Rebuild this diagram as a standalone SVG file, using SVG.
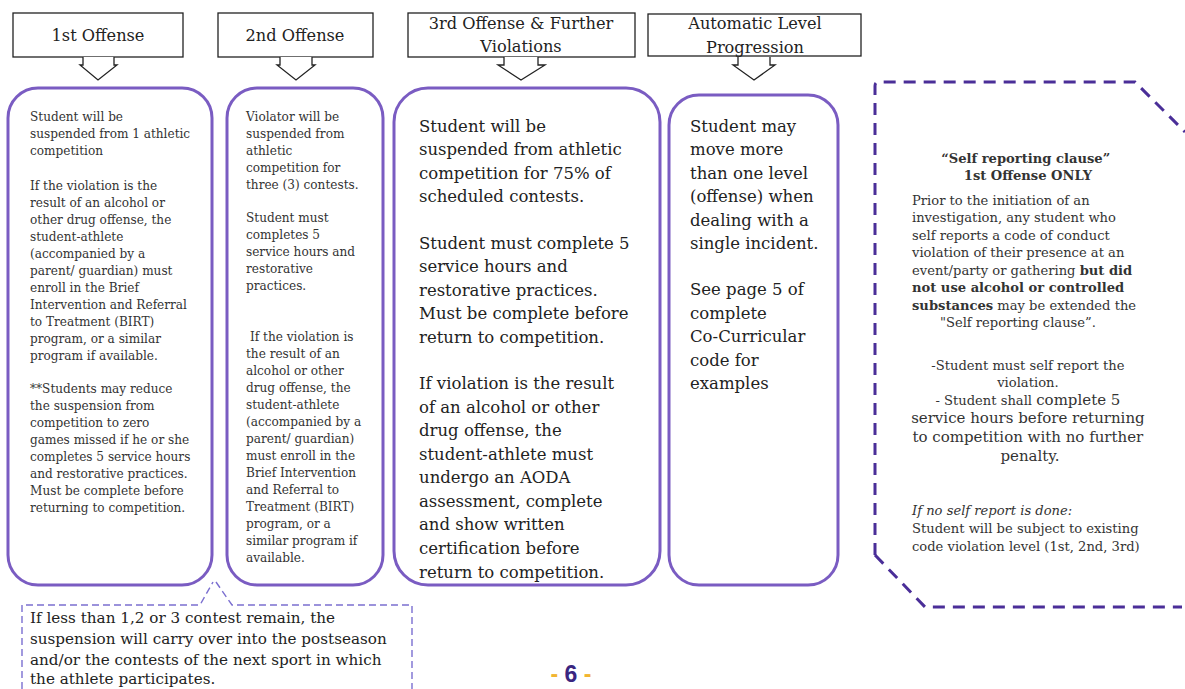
<svg xmlns="http://www.w3.org/2000/svg" width="1185" height="689" viewBox="0 0 1185 689">
<style>
.hdr{fill:#fff;stroke:#222;stroke-width:1.3}
.arr{fill:#fff;stroke:#222;stroke-width:1.3;stroke-linejoin:miter}
.box{fill:#fff;stroke:#7a5cc2;stroke-width:3}
.ht{font-family:"DejaVu Serif","Liberation Serif",serif;font-size:16.2px;fill:#222;text-anchor:middle}
.s{font-family:"DejaVu Serif","Liberation Serif",serif;font-size:12.1px;fill:#333}
.m{font-family:"DejaVu Serif","Liberation Serif",serif;font-size:16.5px;fill:#222}
.r{font-family:"DejaVu Serif","Liberation Serif",serif;font-size:13.1px;fill:#333}
.c{font-family:"DejaVu Serif","Liberation Serif",serif;font-size:15.2px;fill:#222}
.b{font-weight:bold}
.dash{fill:none;stroke:#4a2e98;stroke-width:3;stroke-dasharray:12 8}
.cdash{fill:none;stroke:#7b6fd0;stroke-width:1.4;stroke-dasharray:7 4}
</style>
<rect width="1185" height="689" fill="#fff"/>

<g id="header1">
<rect class="hdr" x="13" y="13" width="170" height="44"/>
<text class="ht" x="98" y="41">1st Offense</text>
<path class="arr" d="M83,57 V65 H80 L98,80 L117,65 H114 V57"/>
</g>
<g id="header2">
<rect class="hdr" x="218" y="13" width="155" height="44"/>
<text class="ht" x="295" y="41">2nd Offense</text>
<path class="arr" d="M280,57 V65 H277 L296,80 L315,65 H312 V57"/>
</g>
<g id="header3">
<rect class="hdr" x="408" y="13" width="227" height="44"/>
<text class="ht" x="521" y="29">3rd Offense &amp; Further</text>
<text class="ht" x="521" y="52">Violations</text>
<path class="arr" d="M504,57 V65 H498 L521,80 L545,65 H538 V57"/>
</g>
<g id="header4">
<rect class="hdr" x="648" y="14" width="213" height="42"/>
<text class="ht" x="755" y="29">Automatic Level</text>
<text class="ht" x="755" y="53">Progression</text>
<path class="arr" d="M738,57 V65 H733 L754,80 L775,65 H770 V57"/>
</g>

<g id="box1">
<rect class="box" x="8" y="88" width="204" height="497" rx="30"/>
<text class="s">
<tspan x="30" y="121">Student will be</tspan>
<tspan x="30" y="138">suspended from 1 athletic</tspan>
<tspan x="30" y="155">competition</tspan>
<tspan x="30" y="190">If the violation is the</tspan>
<tspan x="30" y="207">result of an alcohol or</tspan>
<tspan x="30" y="224">other drug offense, the</tspan>
<tspan x="30" y="241">student-athlete</tspan>
<tspan x="30" y="258">(accompanied by a</tspan>
<tspan x="30" y="275">parent/ guardian) must</tspan>
<tspan x="30" y="292">enroll in the Brief</tspan>
<tspan x="30" y="309">Intervention and Referral</tspan>
<tspan x="30" y="326">to Treatment (BIRT)</tspan>
<tspan x="30" y="343">program, or a similar</tspan>
<tspan x="30" y="360">program if available.</tspan>
<tspan x="30" y="393">**Students may reduce</tspan>
<tspan x="30" y="410">the suspension from</tspan>
<tspan x="30" y="427">competition to zero</tspan>
<tspan x="30" y="444">games missed if he or she</tspan>
<tspan x="30" y="461">completes 5 service hours</tspan>
<tspan x="30" y="478">and restorative practices.</tspan>
<tspan x="30" y="495">Must be complete before</tspan>
<tspan x="30" y="512">returning to competition.</tspan>
</text>
</g>

<g id="box2">
<rect class="box" x="227" y="88" width="156" height="497" rx="30"/>
<text class="s">
<tspan x="246" y="121">Violator will be</tspan>
<tspan x="246" y="138">suspended from</tspan>
<tspan x="246" y="155">athletic</tspan>
<tspan x="246" y="172">competition for</tspan>
<tspan x="246" y="189">three (3) contests.</tspan>
<tspan x="246" y="222">Student must</tspan>
<tspan x="246" y="239">completes 5</tspan>
<tspan x="246" y="256">service hours and</tspan>
<tspan x="246" y="273">restorative</tspan>
<tspan x="246" y="290">practices.</tspan>
<tspan x="250" y="341">If the violation is</tspan>
<tspan x="246" y="358">the result of an</tspan>
<tspan x="246" y="375">alcohol or other</tspan>
<tspan x="246" y="392">drug offense, the</tspan>
<tspan x="246" y="409">student-athlete</tspan>
<tspan x="246" y="426">(accompanied by a</tspan>
<tspan x="246" y="443">parent/ guardian)</tspan>
<tspan x="246" y="460">must enroll in the</tspan>
<tspan x="246" y="477">Brief Intervention</tspan>
<tspan x="246" y="494">and Referral to</tspan>
<tspan x="246" y="511">Treatment (BIRT)</tspan>
<tspan x="246" y="528">program, or a</tspan>
<tspan x="246" y="545">similar program if</tspan>
<tspan x="246" y="562">available.</tspan>
</text>
</g>

<g id="box3">
<rect class="box" x="394" y="88" width="266" height="497" rx="34"/>
<text class="m">
<tspan x="419" y="132">Student will be</tspan>
<tspan x="419" y="155">suspended from athletic</tspan>
<tspan x="419" y="179">competition for 75% of</tspan>
<tspan x="419" y="202">scheduled contests.</tspan>
<tspan x="419" y="249">Student must complete 5</tspan>
<tspan x="419" y="272">service hours and</tspan>
<tspan x="419" y="296">restorative practices.</tspan>
<tspan x="419" y="319">Must be complete before</tspan>
<tspan x="419" y="343">return to competition.</tspan>
<tspan x="419" y="389">If violation is the result</tspan>
<tspan x="419" y="413">of an alcohol or other</tspan>
<tspan x="419" y="436">drug offense, the</tspan>
<tspan x="419" y="460">student-athlete must</tspan>
<tspan x="419" y="483">undergo an AODA</tspan>
<tspan x="419" y="507">assessment, complete</tspan>
<tspan x="419" y="530">and show written</tspan>
<tspan x="419" y="554">certification before</tspan>
<tspan x="419" y="578">return to competition.</tspan>
</text>
</g>

<g id="box4">
<rect class="box" x="669" y="95" width="169" height="490" rx="30"/>
<text class="m">
<tspan x="690" y="132">Student may</tspan>
<tspan x="690" y="155">move more</tspan>
<tspan x="690" y="179">than one level</tspan>
<tspan x="690" y="202">(offense) when</tspan>
<tspan x="690" y="226">dealing with a</tspan>
<tspan x="690" y="249">single incident.</tspan>
<tspan x="690" y="295">See page 5 of</tspan>
<tspan x="690" y="319">complete</tspan>
<tspan x="690" y="342">Co-Curricular</tspan>
<tspan x="690" y="366">code for</tspan>
<tspan x="690" y="389">examples</tspan>
</text>
</g>

<g id="selfreport">
<path class="dash" d="M875,555 V86 Q875,82 879,82 H1135 L1185,132"/>
<path class="dash" d="M875,555 L925,607 H1182"/>
<text class="r b" text-anchor="middle">
<tspan x="1028" y="163">“Self reporting clause”</tspan>
<tspan x="1028" y="180">1st Offense ONLY</tspan>
</text>
<text class="r">
<tspan x="912" y="205">Prior to the initiation of an</tspan>
<tspan x="912" y="222">investigation, any student who</tspan>
<tspan x="912" y="240">self reports a code of conduct</tspan>
<tspan x="912" y="257">violation of their presence at an</tspan>
<tspan x="912" y="275">event/party or gathering <tspan class="b">but did</tspan></tspan>
<tspan x="912" y="292" class="b">not use alcohol or controlled</tspan>
<tspan x="912" y="310"><tspan class="b">substances</tspan> may be extended the</tspan>
</text>
<text class="r" text-anchor="middle">
<tspan x="1020" y="327">"Self reporting clause”.</tspan>
<tspan x="1030" y="370">-Student must self report the</tspan>
<tspan x="1030" y="387">violation.</tspan>
<tspan x="1030" y="405">- Student shall <tspan style="font-size:15px">complete 5</tspan></tspan>
<tspan x="1030" y="423" style="font-size:15px">service hours before returning</tspan>
<tspan x="1030" y="442" style="font-size:15px">to competition with no further</tspan>
<tspan x="1030" y="461" style="font-size:15px">penalty.</tspan>
</text>
<text class="r">
<tspan x="912" y="515" font-style="italic">If no self report is done:</tspan>
<tspan x="912" y="533">Student will be subject to existing</tspan>
<tspan x="912" y="551">code violation level (1st, 2nd, 3rd)</tspan>
</text>
</g>

<g id="callout">
<path class="cdash" d="M22,689 V605 H200 L213,582 M216,582 L232,605 H412 V689"/>
<text class="c">
<tspan x="30" y="623">If less than 1,2 or 3 contest remain, the</tspan>
<tspan x="30" y="644">suspension will carry over into the postseason</tspan>
<tspan x="30" y="665">and/or the contests of the next sport in which</tspan>
<tspan x="30" y="684">the athlete participates.</tspan>
</text>
</g>

<g id="pagenum">
<text x="571" y="682" text-anchor="middle" font-family="Liberation Sans, Arial, sans-serif" font-weight="bold" font-size="23"><tspan fill="#f2b531">- </tspan><tspan fill="#3a2680">6</tspan><tspan fill="#f2b531"> -</tspan></text>
</g>
</svg>
